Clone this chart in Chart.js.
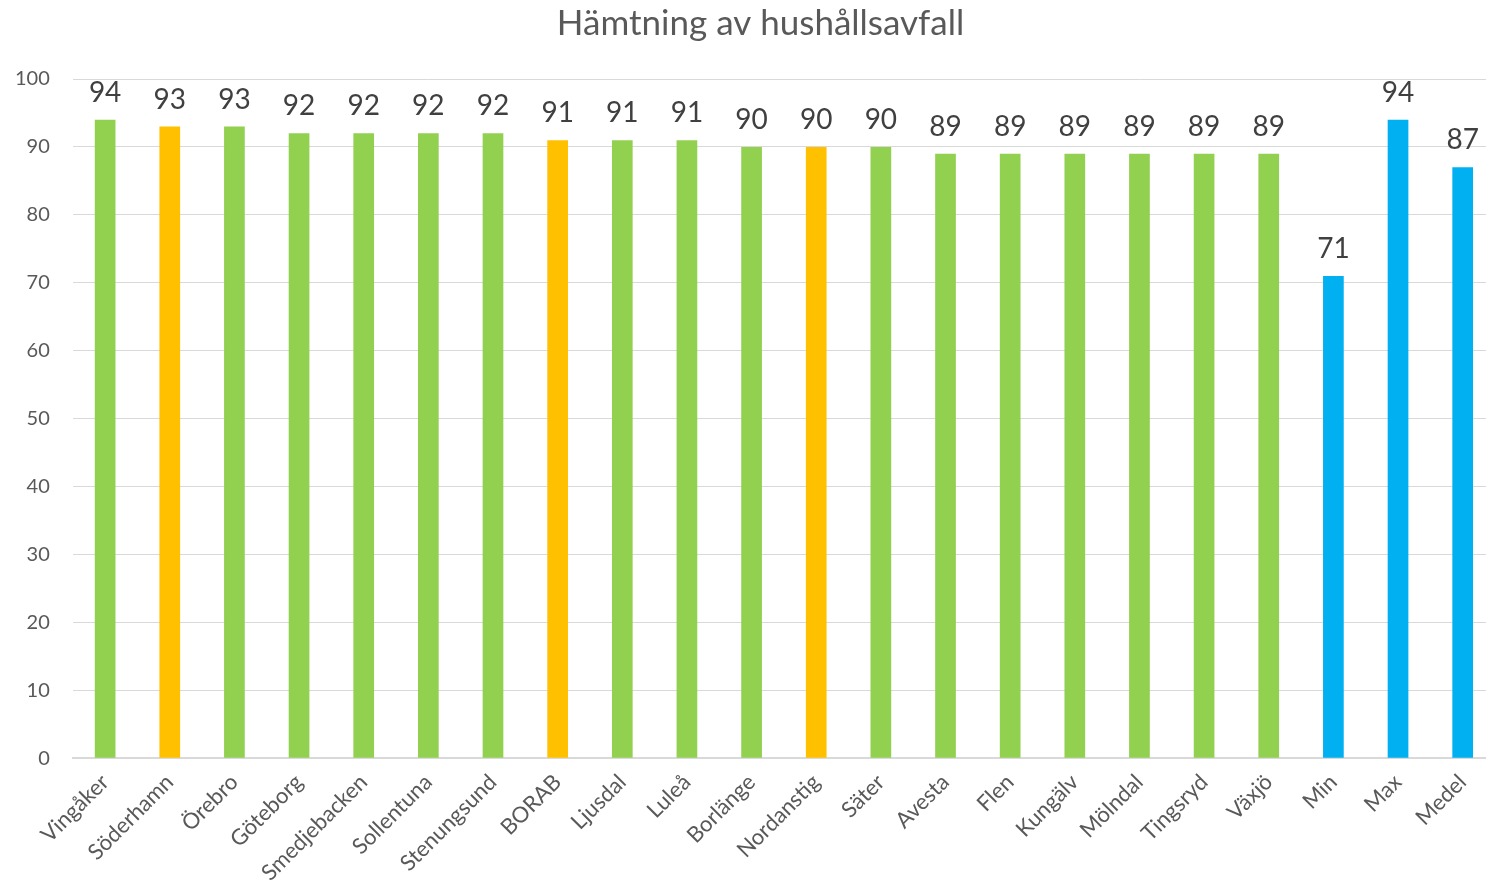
<!DOCTYPE html>
<html>
<head>
<meta charset="utf-8">
<script src="https://cdn.jsdelivr.net/npm/chart.js@4"></script>
<style>
  html, body { margin: 0; padding: 0; background: #fff; overflow: hidden; }
  /* the reference is a crop of a slightly wider chart, so the canvas runs past the right edge */
  #wrap { width: 1522px; height: 889px; }
</style>
</head>
<body>
<div id="wrap"><canvas id="chart"></canvas></div>
<script>
// Data
const categories = ['Vingåker', 'Söderhamn', 'Örebro', 'Göteborg', 'Smedjebacken', 'Sollentuna',
  'Stenungsund', 'BORAB', 'Ljusdal', 'Luleå', 'Borlänge', 'Nordanstig', 'Säter', 'Avesta',
  'Flen', 'Kungälv', 'Mölndal', 'Tingsryd', 'Växjö', 'Min', 'Max', 'Medel'];
const values = [94, 93, 93, 92, 92, 92, 92, 91, 91, 91, 90, 90, 90, 89, 89, 89, 89, 89, 89, 71, 94, 87];
const groups = ['g', 'o', 'g', 'g', 'g', 'g', 'g', 'o', 'g', 'g', 'g', 'o', 'g', 'g',
  'g', 'g', 'g', 'g', 'g', 'b', 'b', 'b'];
const groupColors = { g: '#92D050', o: '#FFC000', b: '#00B0F0' };

const FONT = 'Lato, "Open Sans", sans-serif';

// Draw the value above each bar
const valueLabels = {
    id: 'valueLabels',
    afterDatasetsDraw(chart) {
        const ctx = chart.ctx;
        const meta = chart.getDatasetMeta(0);
        ctx.save();
        ctx.fillStyle = '#404040';
        ctx.font = '28px ' + FONT;
        ctx.textAlign = 'center';
        ctx.textBaseline = 'bottom';
        meta.data.forEach((bar, i) => {
            ctx.fillText(values[i], bar.x, bar.y - 13);
        });
        ctx.restore();
    }
};

// Excel centres the title over the whole (wider) chart; nudge it to match
const titleNudge = {
    id: 'titleNudge',
    afterLayout(chart) {
        const t = chart.titleBlock;
        if (t) { t.left += 17; t.right += 17; }
    }
};

new Chart(document.getElementById('chart'), {
    type: 'bar',
    data: {
        labels: categories,
        datasets: [{
            data: values,
            backgroundColor: groups.map(g => groupColors[g]),
            barPercentage: 0.64,
            categoryPercentage: 0.5
        }]
    },
    options: {
        responsive: true,
        maintainAspectRatio: false,
        animation: false,
        // the y axis reserves its tick padding twice, so pull it left
        layout: { padding: { left: -8, right: 27, top: 0, bottom: 0 } },
        plugins: {
            legend: { display: false },
            tooltip: { enabled: false },
            title: {
                display: true,
                text: 'Hämtning av hushållsavfall',
                color: '#595959',
                font: { family: FONT, size: 35, weight: 'normal' },
                padding: { top: 3, bottom: 34 }
            }
        },
        scales: {
            x: {
                grid: { display: false },
                border: { color: '#D9D9D9', width: 2 },
                ticks: {
                    color: '#595959',
                    font: { family: FONT, size: 22 },
                    minRotation: 45,
                    maxRotation: 45,
                    autoSkip: false,
                    padding: 3
                }
            },
            y: {
                min: 0,
                max: 100,
                grid: { color: '#D9D9D9', lineWidth: 1, drawTicks: false },
                border: { display: false },
                ticks: {
                    stepSize: 10,
                    color: '#595959',
                    font: { family: FONT, size: 20 },
                    padding: 23
                }
            }
        }
    },
    plugins: [valueLabels, titleNudge]
});
</script>
</body>
</html>
